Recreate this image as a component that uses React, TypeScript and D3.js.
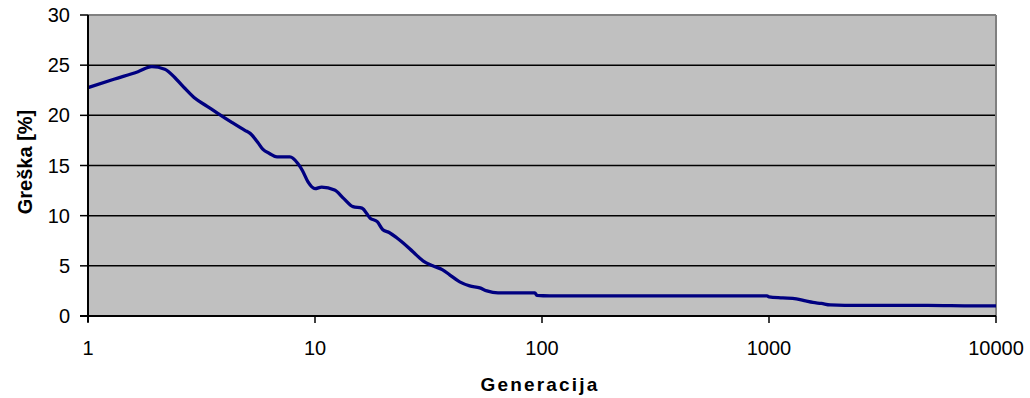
import React from 'react';
import * as d3 from 'd3';

// generacija (log x) i greška u postocima
const generations = [1, 1.3, 1.66, 1.91, 2.18, 2.45, 2.67, 2.96, 3.35, 3.73, 4.3, 4.91, 5.18, 5.6, 5.9, 6.3, 6.8, 7.75, 8.4, 8.8, 9.3, 10, 10.7, 12.2, 13.4, 14.7, 16.1, 17.5, 18.8, 19.9, 21.3, 22.9, 24.4, 27, 29.9, 33, 36.5, 39.2, 43.4, 48, 53.2, 57.2, 64, 77.5, 93, 95, 108, 200, 400, 700, 980, 1000, 1150, 1320, 1450, 1560, 1700, 1860, 2500, 5000, 8000, 10000];
const errors = [22.76, 23.6, 24.35, 24.85, 24.6, 23.6, 22.7, 21.7, 20.9, 20.2, 19.3, 18.5, 18.2, 17.3, 16.6, 16.2, 15.85, 15.85, 15.2, 14.5, 13.4, 12.7, 12.85, 12.55, 11.7, 10.9, 10.75, 9.75, 9.4, 8.6, 8.3, 7.8, 7.3, 6.4, 5.5, 5.0, 4.6, 4.1, 3.4, 3.0, 2.8, 2.5, 2.3, 2.3, 2.3, 2.05, 2.0, 2.0, 2.0, 2.0, 2.0, 1.9, 1.8, 1.7, 1.5, 1.35, 1.25, 1.1, 1.05, 1.05, 1.0, 1.0];
const yTicks = [0, 5, 10, 15, 20, 25, 30];
const xTicks = [1, 10, 100, 1000, 10000];

const W = 1030;
const H = 398;
const left = 88;
const right = 996;
const top = 15;
const bottom = 316;

const App = () => {
    const x = d3.scaleLog().domain([1, 10000]).range([left, right]);
    const y = d3.scaleLinear().domain([0, 30]).range([bottom, top]);

    const line = d3.line<number>()
        .x((d, i) => x(generations[i]))
        .y((d) => y(d))
        .curve(d3.curveMonotoneX);

    const font = '"Liberation Sans", Arial, sans-serif';

    return (
        <div style={{ position: 'fixed', left: 0, top: 0 }}>
            <svg width={W} height={H} style={{ display: 'block', background: '#fff' }}>
                <rect x={left} y={top} width={right - left} height={bottom - top} fill="#c0c0c0" />
                {yTicks.filter((t) => t > 0 && t < 30).map((t) => (
                    <line key={'g' + t} x1={left} x2={right} y1={y(t)} y2={y(t)} stroke="#000" strokeWidth={1.5} />
                ))}
                {/* gray frame on top/right */}
                <line x1={left} x2={right} y1={top} y2={top} stroke="#808080" strokeWidth={2} />
                <line x1={right} x2={right} y1={top} y2={bottom} stroke="#808080" strokeWidth={2} />

                <path d={line(errors) || ''} fill="none" stroke="#000080" strokeWidth={3.3} strokeLinejoin="round" />

                {/* axes */}
                <line x1={left} x2={left} y1={top} y2={bottom + 6} stroke="#000" strokeWidth={2} />
                <line x1={left - 8} x2={right} y1={bottom} y2={bottom} stroke="#000" strokeWidth={2} />
                {yTicks.map((t) => (
                    <g key={'y' + t}>
                        <line x1={left - 8} x2={left} y1={y(t)} y2={y(t)} stroke="#000" strokeWidth={1.5} />
                        <text x={70} y={y(t)} dy="0.35em" textAnchor="end" fontFamily={font} fontSize={20} fill="#000">{t}</text>
                    </g>
                ))}
                {xTicks.map((t) => (
                    <g key={'x' + t}>
                        <line x1={x(t)} x2={x(t)} y1={bottom} y2={bottom + 7} stroke="#000" strokeWidth={1.5} />
                        <text x={x(t)} y={355} textAnchor="middle" fontFamily={font} fontSize={20} fill="#000">{t}</text>
                    </g>
                ))}
                <text x={540} y={391} textAnchor="middle" fontFamily={font} fontSize={19} fontWeight="bold" letterSpacing={2.2} fill="#000">Generacija</text>
                <text transform="translate(32,162) rotate(-90)" textAnchor="middle" fontFamily={font} fontSize={20} fontWeight="bold" fill="#000">Greška [%]</text>
            </svg>
        </div>
    );
};

export default App;
